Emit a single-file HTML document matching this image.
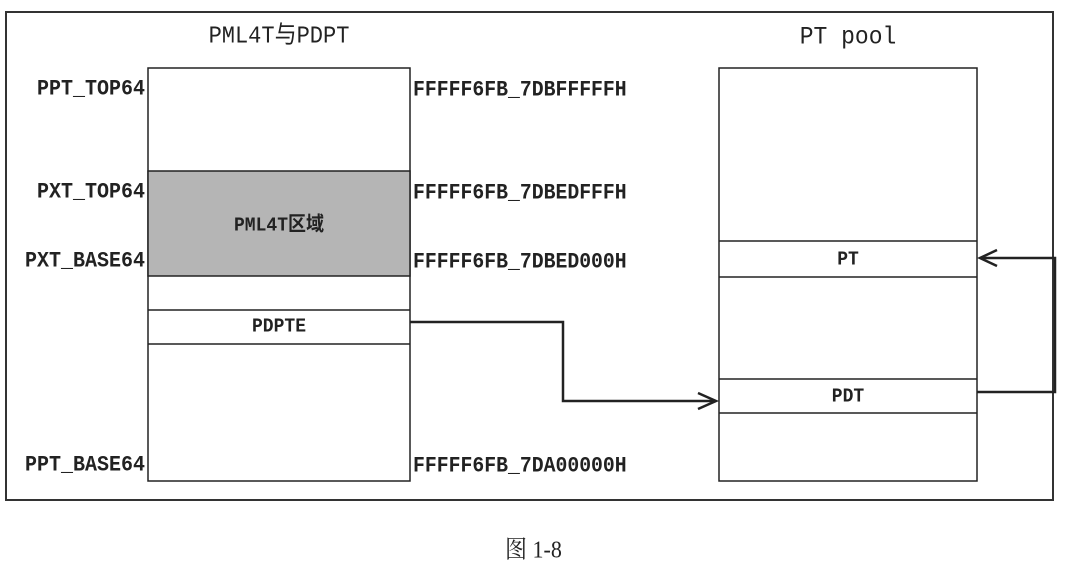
<!DOCTYPE html>
<html><head><meta charset="utf-8"><style>
body{margin:0;background:#fff;width:1086px;height:579px;overflow:hidden;position:relative;font-family:"Liberation Mono","Noto Sans CJK SC",monospace;}
.t{position:absolute;font-size:20px;line-height:20px;font-weight:bold;color:#222;white-space:nowrap;transform:scaleY(1.1)}
.r{text-align:right;width:200px}
.c{text-align:center}
</style></head><body>
<svg width="1086" height="579" style="position:absolute;left:0;top:0">
<rect x="6" y="12" width="1047" height="488" fill="none" stroke="#333" stroke-width="2"/>
<rect x="148" y="68" width="262" height="413" fill="#fff" stroke="#222" stroke-width="1.5"/>
<rect x="148" y="171" width="262" height="105" fill="#b5b5b5" stroke="#222" stroke-width="1.5"/>
<line x1="148" y1="310" x2="410" y2="310" stroke="#222" stroke-width="1.5"/>
<line x1="148" y1="344" x2="410" y2="344" stroke="#222" stroke-width="1.5"/>
<rect x="719" y="68" width="258" height="413" fill="#fff" stroke="#222" stroke-width="1.5"/>
<line x1="719" y1="241" x2="977" y2="241" stroke="#222" stroke-width="1.5"/>
<line x1="719" y1="277" x2="977" y2="277" stroke="#222" stroke-width="1.5"/>
<line x1="719" y1="379" x2="977" y2="379" stroke="#222" stroke-width="1.5"/>
<line x1="719" y1="413" x2="977" y2="413" stroke="#222" stroke-width="1.5"/>
<polyline points="410,322 563,322 563,401 716,401" fill="none" stroke="#222" stroke-width="2.5"/>
<polyline points="698,393 716,401 698,409" fill="none" stroke="#222" stroke-width="2.5"/>
<polyline points="977,392 1055,392 1055,258 980,258" fill="none" stroke="#222" stroke-width="2.5"/>
<polyline points="997,250 980,258 997,266" fill="none" stroke="#222" stroke-width="2.5"/>
</svg>
<div class="t c" style="left:148px;width:262px;top:27px;font-size:22px;font-weight:normal">PML4T与PDPT</div>
<div class="t c" style="left:719px;width:258px;top:27px;font-size:23px;font-weight:normal">PT pool</div>
<div class="t r" style="left:-55px;top:80px">PPT_TOP64</div>
<div class="t r" style="left:-55px;top:183px">PXT_TOP64</div>
<div class="t r" style="left:-55px;top:252px">PXT_BASE64</div>
<div class="t r" style="left:-55px;top:456px">PPT_BASE64</div>
<div class="t" style="left:413px;top:80px;font-size:19.8px">FFFFF6FB_7DBFFFFFH</div>
<div class="t" style="left:413px;top:183px;font-size:19.8px">FFFFF6FB_7DBEDFFFH</div>
<div class="t" style="left:413px;top:252px;font-size:19.8px">FFFFF6FB_7DBED000H</div>
<div class="t" style="left:413px;top:456px;font-size:19.8px">FFFFF6FB_7DA00000H</div>
<div class="t c" style="left:148px;width:262px;top:216px;font-size:18px">PML4T区域</div>
<div class="t c" style="left:148px;width:262px;top:317px;font-size:18px">PDPTE</div>
<div class="t c" style="left:719px;width:258px;top:250px;font-size:18px">PT</div>
<div class="t c" style="left:719px;width:258px;top:387px;font-size:18px">PDT</div>
<div class="t" style="left:505px;top:540px;font-size:22px;font-weight:normal;font-family:'Liberation Serif','Noto Serif CJK SC',serif">图 1-8</div>
</body></html>
